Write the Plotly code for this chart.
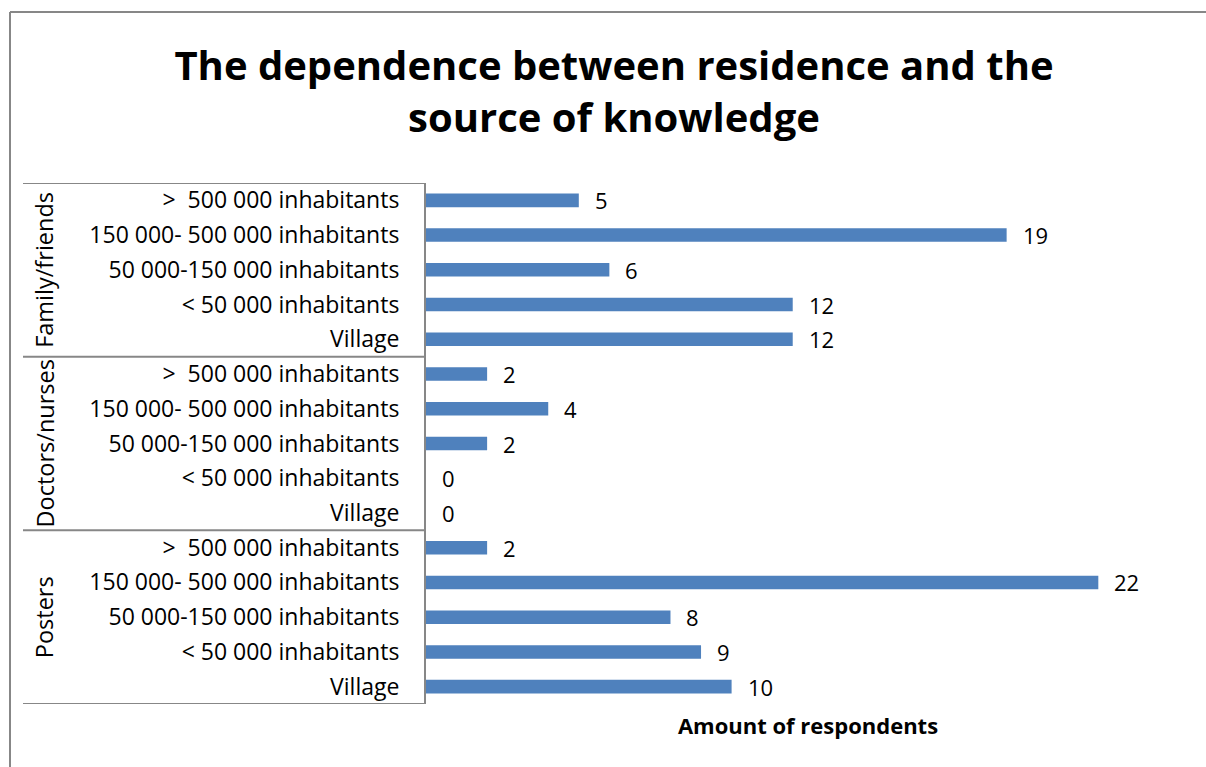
import plotly.graph_objects as go

# Data (top to bottom as shown)
groups = ["Family/friends", "Doctors/nurses", "Posters"]
residences = ["> &nbsp;500 000 inhabitants", "150 000- 500 000 inhabitants",
              "50 000-150 000 inhabitants", "< 50 000 inhabitants", "Village"]
family_friends = [5, 19, 6, 12, 12]
doctors_nurses = [2, 4, 2, 0, 0]
posters = [2, 22, 8, 9, 10]

values = family_friends + doctors_nurses + posters
labels = residences * 3
positions = list(range(len(values)))

W, H = 1206, 767
L, R, T, B = 426, 16, 183, 63
pw = W - L - R
ph = H - T - B

def px_x(px):
    return (px - L) / pw

def px_y(py):
    return (H - B - py) / ph

FONT = "Open Sans"
GRAY = "#878787"

fig = go.Figure()
fig.add_trace(go.Bar(
    x=values, y=positions, orientation="h",
    marker=dict(color="#4F81BD", line=dict(width=0)),
    hoverinfo="x",
))

annotations = []
for v, p in zip(values, positions):
    annotations.append(dict(x=v, y=p, xref="x", yref="y", text=str(v),
                            showarrow=False, xanchor="left", yanchor="middle",
                            xshift=14, yshift=0,
                            font=dict(family=FONT, size=22, color="#000000")))

n = len(residences)
for gi, g in enumerate(groups):
    center = gi * n + (n - 1) / 2
    annotations.append(dict(x=px_x(44), y=center, xref="paper", yref="y", text=g,
                            showarrow=False, textangle=-90, xanchor="center", yanchor="middle",
                            font=dict(family=FONT, size=23.5, color="#000000")))

shapes = []
for gi in range(len(groups) + 1):
    yv = gi * n - 0.5
    shapes.append(dict(type="line", xref="paper", yref="y", x0=px_x(23), x1=0, y0=yv, y1=yv,
                       line=dict(color=GRAY, width=2)))
# chart border (left and top)
shapes.append(dict(type="line", xref="paper", yref="paper", x0=px_x(10), x1=px_x(10),
                   y0=px_y(12), y1=px_y(780), line=dict(color=GRAY, width=2)))
shapes.append(dict(type="line", xref="paper", yref="paper", x0=px_x(10), x1=px_x(1220),
                   y0=px_y(12), y1=px_y(12), line=dict(color=GRAY, width=2)))

fig.update_layout(
    width=W, height=H,
    margin=dict(l=L, r=R, t=T, b=B, autoexpand=False),
    paper_bgcolor="white", plot_bgcolor="white",
    bargap=0.61,
    showlegend=False,
    title=dict(text="<b>The dependence between residence and the<br>source of knowledge</b>",
               x=614 / W, xanchor="center", y=1 - 80 / H, yanchor="top",
               font=dict(family=FONT, size=40, color="#000000")),
    xaxis=dict(range=[0, 25], showgrid=False, zeroline=False, showticklabels=False,
               ticks="", showline=False,
               title=dict(text="<b>Amount of respondents</b>", standoff=14,
                          font=dict(family=FONT, size=22, color="#000000"))),
    yaxis=dict(tickmode="array", tickvals=positions, ticktext=labels,
               range=[len(values) - 0.5, -0.5], showgrid=False, zeroline=False,
               ticks="", showline=True, linecolor=GRAY, linewidth=2,
               ticklabelstandoff=20,
               tickfont=dict(family=FONT, size=23, color="#000000")),
    annotations=annotations,
    shapes=shapes,
    font=dict(family=FONT),
)

fig.write_html("out.html")
